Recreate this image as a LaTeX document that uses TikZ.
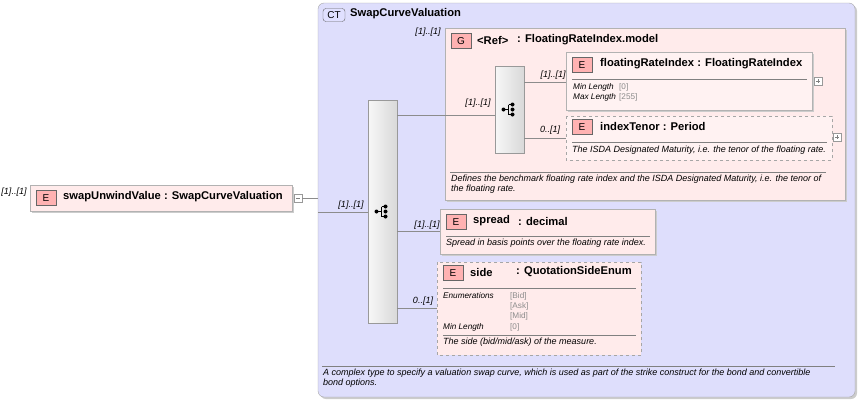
\documentclass[tikz,border=0pt]{standalone}
\usepackage{fontspec}
\setmainfont{Liberation Sans}
\begin{document}
\begin{tikzpicture}[x=1pt,y=-1pt,
 box/.style={draw=black!30,fill=red!8},
 dbox/.style={draw=black!35,dashed,fill=red!8},
 badge/.style={draw=black!60,fill=red!30,inner sep=0pt,minimum width=20pt,minimum height=15pt,font=\fontsize{10}{10}\selectfont},
 ttl/.style={anchor=west,inner sep=0pt,font=\bfseries\fontsize{11.2}{12}\selectfont},
 lab/.style={inner sep=0pt,font=\itshape\fontsize{9}{9}\selectfont},
 sm/.style={anchor=west,inner sep=0pt,font=\itshape\fontsize{9}{10}\selectfont},
 smk/.style={anchor=west,inner sep=0pt,font=\itshape\fontsize{8.2}{9}\selectfont},
 gr/.style={anchor=west,inner sep=0pt,text=black!45,font=\fontsize{8.2}{9}\selectfont},
 seq/.style={draw=black!40,top color=black!3,bottom color=black!15,shading angle=90},
 con/.style={draw=black!45},
 pm/.style={draw=black!40,fill=white}]
\useasboundingbox (0,0) rectangle (859,400);
\def\seqicon#1#2{%
 \fill (#1-6,#2) circle (2);
 \draw[line width=0.8] (#1-6,#2)--(#1-1,#2) (#1-1,#2-5)--(#1-1,#2+5) (#1-1,#2-5)--(#1+3,#2-5) (#1-1,#2+5)--(#1+3,#2+5);
 \fill (#1+3,#2-5) circle (2) (#1+3,#2) circle (2) (#1+3,#2+5) circle (2);}
% CT box
\fill[black!20,rounded corners=6] (320,5) rectangle (857,399);
\draw[draw=black!35,fill={rgb,255:red,222;green,222;blue,252},rounded corners=6] (318,3) rectangle (855,397);
\node[badge,fill=blue!12,rounded corners=3,minimum width=22pt,minimum height=13pt] (ct) at (334,15) {CT};
\node[ttl] (ctt) at (350,14) {SwapCurveValuation};
% G box
\fill[black!20] (447,30) rectangle (847,202);
\draw[box] (445,28) rectangle (845,200);
\node[badge] (g) at (461,41) {G};
\node[ttl] (gref) at (477,40) {<Ref>};
\node[ttl] (gt) at (517,40) {: FloatingRateIndex.model};
\draw[black!50] (450,172)--(826,172);
\node[sm,align=left] (gd) at (451,184) {Defines the benchmark floating rate index and the ISDA Designated Maturity, i.e. the tenor of\\the floating rate.};
% seq boxes
\node[seq,minimum width=29pt,minimum height=87pt,inner sep=0pt] (s2) at (509.5,109.5) {};
\seqicon{509.5}{109.5}
\node[seq,minimum width=29pt,minimum height=223pt,inner sep=0pt] (s1) at (382.5,211.5) {};
\seqicon{382.5}{211.5}
% floatingRateIndex
\fill[black!20] (568,54) rectangle (814,112);
\draw[box,fill=red!5] (566,52) rectangle (812,110);
\node[badge] (e1) at (582,65) {E};
\node[ttl] (t1) at (600,64) {floatingRateIndex : FloatingRateIndex};
\draw[black!50] (572,79)--(807,79);
\node[smk] (m1) at (573,87) {Min Length};
\node[gr] (m1v) at (619,87) {[0]};
\node[smk] (m2) at (573,97) {Max Length};
\node[gr] (m2v) at (619,97) {[255]};
\draw[pm] (814,77) rectangle (822,85); \draw[black!50] (816,81)--(820,81) (818,79)--(818,83);
% indexTenor
\draw[dbox,fill=red!5] (566,116) rectangle (832,160);
\node[badge] (e2) at (582,127) {E};
\node[ttl] (t2) at (600,126) {indexTenor : Period};
\draw[black!50] (572,142)--(827,142);
\node[sm] (d2) at (572,150) {The ISDA Designated Maturity, i.e. the tenor of the floating rate.};
\draw[pm] (833,133) rectangle (841,141); \draw[black!50] (835,137)--(839,137) (837,135)--(837,139);
% spread
\fill[black!20] (442,211) rectangle (657,256);
\draw[box] (440,209) rectangle (655,254);
\node[badge] (e3) at (456,222) {E};
\node[ttl] (t3) at (473,221) {spread};
\node[ttl] (t3b) at (518,221) {: decimal};
\draw[black!50] (446,236)--(650,236);
\node[sm] (d3) at (446,243) {Spread in basis points over the floating rate index.};
% side
\draw[dbox] (437,262) rectangle (641,355);
\node[badge] (e4) at (453,273) {E};
\node[ttl] (t4) at (470,272) {side};
\node[ttl] (t4b) at (516,272) {: QuotationSideEnum};
\draw[black!50] (443,288)--(636,288);
\node[smk] (en) at (443,296) {Enumerations};
\node[gr] (e41) at (510,296) {[Bid]};
\node[gr] (e42) at (510,306) {[Ask]};
\node[gr] (e43) at (510,316) {[Mid]};
\node[smk] (ml) at (443,327) {Min Length};
\node[gr] (mlv) at (510,327) {[0]};
\draw[black!50] (443,335)--(636,335);
\node[sm] (d4) at (443,342) {The side (bid/mid/ask) of the measure.};
% CT description
\draw[black!50] (322,366)--(835,366);
\node[sm,align=left] (ctd) at (323,378) {A complex type to specify a valuation swap curve, which is used as part of the strike construct for the bond and convertible\\bond options.};
% root element
\fill[black!20] (32,187) rectangle (294,213);
\draw[box] (30,185) rectangle (292,211);
\node[badge] (e0) at (46,198) {E};
\node[ttl] (t0) at (63,197) {swapUnwindValue : SwapCurveValuation};
\draw[pm] (294,194) rectangle (302,202); \draw[black!50] (296,198)--(300,198);
\node[lab] at (14,192) {[1]..[1]};
% connectors
\draw[con] (302,198)--(318,198) (318,212)--(368,212);
\node[lab] at (351,205) {[1]..[1]};
\draw[con] (397,115)--(445,115) (445,115)--(495,115);
\node[lab] at (428,32) {[1]..[1]};
\node[lab] at (478,103) {[1]..[1]};
\draw[con] (524,82)--(566,82);
\node[lab] at (553,75) {[1]..[1]};
\draw[con] (524,138)--(566,138);
\node[lab] at (550,130) {0..[1]};
\draw[con] (397,231)--(440,231);
\node[lab] at (427,225) {[1]..[1]};
\draw[con] (397,308)--(437,308);
\node[lab] at (423,301) {0..[1]};
\end{tikzpicture}
\end{document}
